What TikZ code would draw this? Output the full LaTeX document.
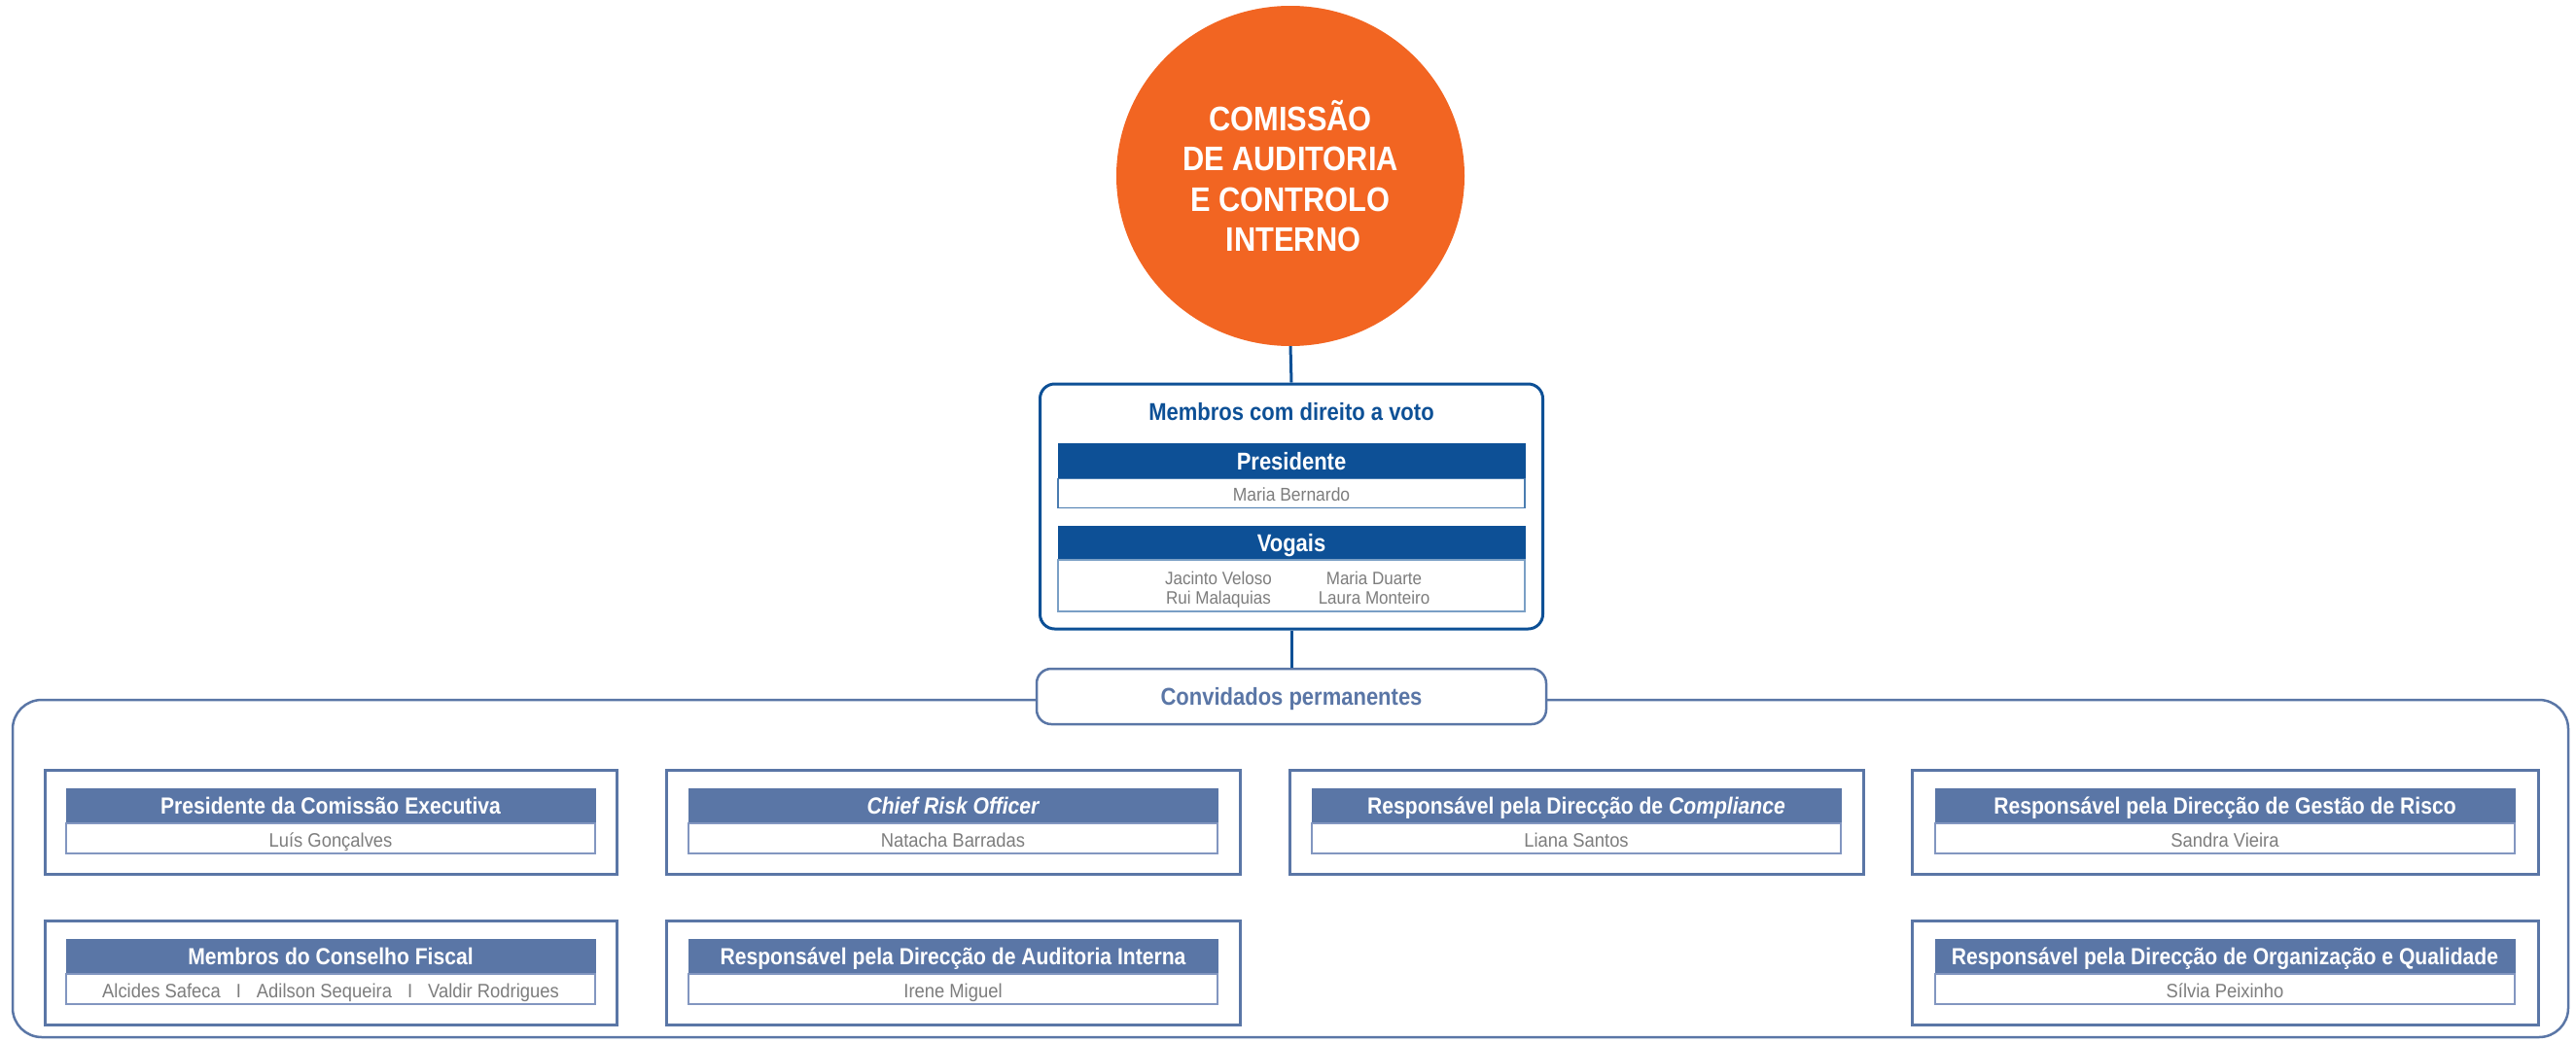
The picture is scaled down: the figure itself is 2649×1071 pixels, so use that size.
\documentclass[tikz,border=0pt]{standalone}
\usetikzlibrary{shapes.geometric}
\usepackage{fontspec}
\setmainfont{Liberation Sans}
\newfontfamily\hdfont[FakeStretch=0.88]{Liberation Sans}
\newfontfamily\bdfont[FakeStretch=0.92]{Liberation Sans}
\definecolor{corange}{RGB}{242,101,34}
\definecolor{dblue}{RGB}{13,80,150}
\definecolor{sblue}{RGB}{90,118,166}
\definecolor{lblue}{RGB}{130,150,192}
\definecolor{gtext}{RGB}{125,125,125}
\tikzset{
  framebox/.style={draw=sblue, line width=3, fill=white, inner sep=0, minimum height=107},
  hdrbox/.style={fill=sblue, draw=sblue, line width=1, inner sep=0, minimum height=36, text height=19.5, text depth=2.5, text=white, font=\hdfont\bfseries\fontsize{24}{28}\selectfont},
  bdybox/.style={draw=lblue, line width=1.5, fill=white, inner sep=0, minimum height=31, text height=19, text depth=2, text=gtext, font=\bdfont\fontsize{20}{24}\selectfont},
  conn/.style={draw=dblue, line width=3},
  vogname/.style={align=center, inner sep=0, anchor=north, text=gtext, font=\bdfont\fontsize{18.5}{19.5}\selectfont},
}
\newcommand{\cacbox}[7]{%
  \node[framebox, minimum width=#4] (#1) at (#2, #3+53.5) {};
  \node[hdrbox, minimum width=#5] (#1h) at (#2, #3+37) {#6};
  \node[bdybox, minimum width=#5] (#1b) at (#2, #3+70.5) {#7};
}
\begin{document}
\begin{tikzpicture}[x=1pt,y=-1pt]
\useasboundingbox (0,0) rectangle (2649,1071);
% outer frame
\node[draw=sblue, line width=2.5, rounded corners=30, inner sep=0, minimum width=2628, minimum height=347] (outer) at (1327,893.5) {};
% circle
\node[ellipse, fill=corange, inner sep=0, minimum width=358, minimum height=350, align=center, text=white,
      font=\hdfont\bfseries\fontsize{35}{41.5}\selectfont] (cac) at (1327,181)
      {COMISSÃO\\DE AUDITORIA\\E CONTROLO\\\hspace*{6pt}INTERNO};
% voting members box
\node[draw=dblue, line width=3, rounded corners=15, fill=white, inner sep=0, minimum width=517, minimum height=252] (memb) at (1328,521) {};
\node[text=dblue, inner sep=0, text height=19, text depth=1, font=\hdfont\bfseries\fontsize{25}{29}\selectfont] (membt) at (1328,423) {Membros com direito a voto};
\node[fill=dblue, draw=dblue, line width=1, inner sep=0, minimum width=480, minimum height=36, text height=19.5, text depth=2.5, text=white, font=\hdfont\bfseries\fontsize{25}{29}\selectfont] (presh) at (1328,474.5) {Presidente};
\node[draw=dblue!75, line width=1.5, fill=white, inner sep=0, minimum width=480, minimum height=30, text height=18, text depth=2, text=gtext, font=\bdfont\fontsize{19}{23}\selectfont] (presb) at (1328,507.5) {Maria Bernardo};
\node[fill=dblue, draw=dblue, line width=1, inner sep=0, minimum width=480, minimum height=35, text height=19.5, text depth=2.5, text=white, font=\hdfont\bfseries\fontsize{25}{29}\selectfont] (vogh) at (1328,558.5) {Vogais};
\node[draw=dblue!55, line width=1.5, fill=white, inner sep=0, minimum width=480, minimum height=53, text=gtext] (vogb) at (1328,602.5) {};
\node[vogname] (voga) at (1253,588) {Jacinto Veloso\\Rui Malaquias};
\node[vogname] (vogc) at (1413,588) {Maria Duarte\\Laura Monteiro};
% connectors
\draw[conn] (cac.south) -- (memb.north);
% permanent guests
\node[draw=sblue, line width=2.5, rounded corners=15, fill=white, inner sep=0, minimum width=524, minimum height=57, text height=20, text depth=2, text=sblue,
      font=\hdfont\bfseries\fontsize{25}{29}\selectfont] (conv) at (1328,716.5) {Convidados permanentes};
\draw[conn] (memb.south) -- (conv.north);
% lower boxes
\cacbox{pce}{340}{792}{588}{544}{Presidente da Comissão Executiva}{Luís Gonçalves}
\cacbox{cro}{980}{792}{590}{544}{\itshape Chief Risk Officer}{Natacha Barradas}
\cacbox{rdc}{1621}{792}{590}{544}{Responsável pela Direcção de \textit{Compliance}}{Liana Santos}
\cacbox{rgr}{2288}{792}{644}{596}{Responsável pela Direcção de Gestão de Risco}{Sandra Vieira}
\cacbox{mcf}{340}{947}{588}{544}{Membros do Conselho Fiscal}{Alcides Safeca\hspace{16pt}I\hspace{16pt}Adilson Sequeira\hspace{16pt}I\hspace{16pt}Valdir Rodrigues}
\cacbox{rai}{980}{947}{590}{544}{Responsável pela Direcção de Auditoria Interna}{Irene Miguel}
\cacbox{roq}{2288}{947}{644}{596}{Responsável pela Direcção de Organização e Qualidade}{Sílvia Peixinho}
\end{tikzpicture}
\end{document}
